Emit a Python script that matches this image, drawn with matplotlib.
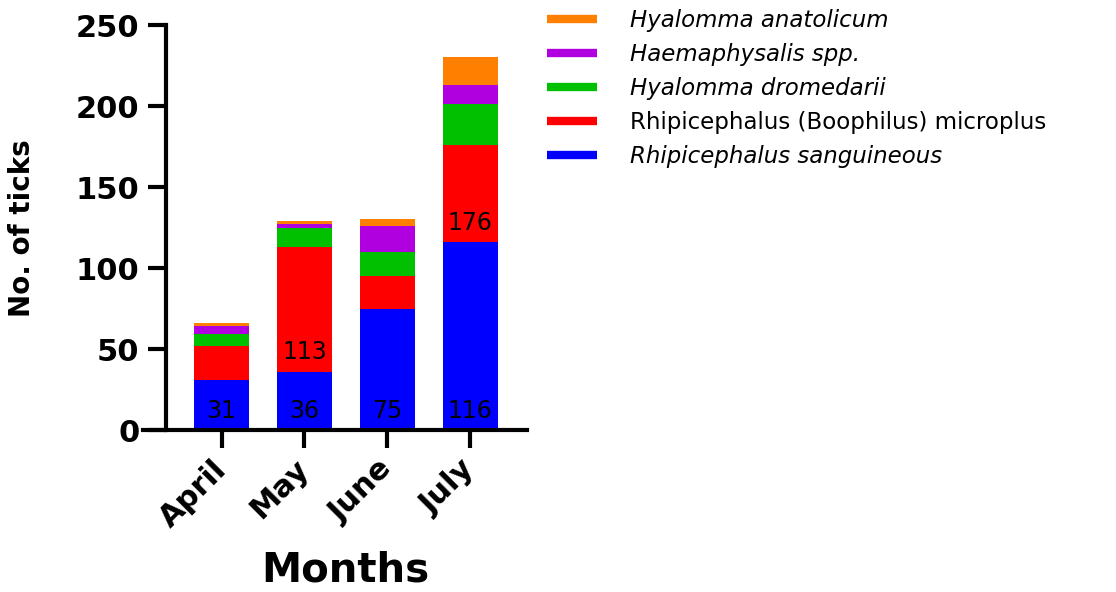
import matplotlib
matplotlib.use("Agg")
import matplotlib.pyplot as plt
import numpy as np

plt.rcParams["font.family"] = "DejaVu Sans"

# Values (bottom to top)
months = ['April', 'May', 'June', 'July']
sanguineous = [31, 36, 75, 116]
microplus = [21, 77, 20, 60]
dromedarii = [7, 12, 15, 25]
haemaphysalis = [5, 2, 16, 12]
anatolicum = [2, 2, 4, 17]
yticks = [0, 50, 100, 150, 200, 250]

series_names = ['Rhipicephalus sanguineous', 'Rhipicephalus (Boophilus) microplus',
                'Hyalomma dromedarii', 'Haemaphysalis spp.', 'Hyalomma anatolicum']
series_italic = [True, False, True, True, True]
colors = ['#0000FF', '#FF0000', '#00C000', '#B000E0', '#FF8000']

# which red segments carry a cumulative label
label_red = [False, True, False, True]

fig = plt.figure(figsize=(11.16, 5.92), dpi=100)
ax = fig.add_axes([0.1281, 0.2736, 0.3441, 0.6841])

# spine position first (it resets the ticks)
ax.spines['top'].set_visible(False)
ax.spines['right'].set_visible(False)
ax.spines['left'].set_position(('data', -0.676))
ax.spines['left'].set_linewidth(3)
ax.spines['bottom'].set_linewidth(3)

x = np.arange(len(months))
series = [sanguineous, microplus, dromedarii, haemaphysalis, anatolicum]
bottom = np.zeros(len(months))
handles = []
for vals, name, col in zip(series, series_names, colors):
    ax.bar(x, vals, width=0.664, bottom=bottom, color=col, linewidth=0)
    h, = ax.plot([], [], color=col, linewidth=6, solid_capstyle='butt')
    handles.append(h)
    bottom = bottom + np.array(vals)

# value labels: blue segment value and red cumulative value
for i in range(len(months)):
    ax.text(x[i], 12, str(sanguineous[i]), ha='center', va='center', fontsize=17)
    if label_red[i]:
        ax.text(x[i], sanguineous[i] + 12, str(sanguineous[i] + microplus[i]),
                ha='center', va='center', fontsize=17)

ax.set_xlim(-0.95, 3.687)
ax.set_ylim(0, 250)
ax.tick_params(axis='both', width=3, length=13)
ax.tick_params(axis='y', pad=6)
ax.tick_params(axis='x', pad=12)
ax.set_yticks(yticks, labels=[str(v) for v in yticks], fontsize=22, fontweight='bold')
ax.set_xticks(x, labels=months, rotation=45, ha='right', va='center',
              rotation_mode='anchor', fontsize=22, fontweight='bold')

fig.text(22 / 1116, 1 - 228 / 592, 'No. of ticks', rotation=90, ha='center',
         va='center', fontsize=20, fontweight='bold')
fig.text(345 / 1116, 0.0169, 'Months', ha='center', va='baseline',
         fontsize=29, fontweight='bold')

leg = fig.legend(handles[::-1], series_names[::-1], loc='upper left',
                 bbox_to_anchor=(547 / 1116, 0.984), frameon=False, fontsize=16.5,
                 handlelength=2.2, handletextpad=1.4, labelspacing=0.47,
                 borderpad=0, borderaxespad=0)
for txt, it in zip(leg.get_texts(), series_italic[::-1]):
    if it:
        txt.set_fontstyle('italic')

fig.savefig('out.png', dpi=100)
